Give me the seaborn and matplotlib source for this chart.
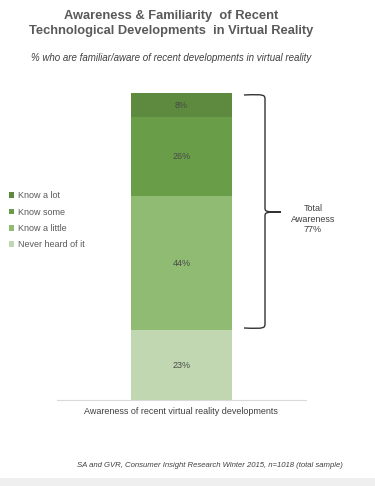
import matplotlib
matplotlib.use("Agg")
import matplotlib.pyplot as plt
import seaborn as sns
import pandas as pd
import numpy as np
from matplotlib.patches import Patch, Rectangle, PathPatch
from matplotlib.path import Path

# ---- data ----
categories = ["Never heard of it", "Know a little", "Know some", "Know a lot"]
values = [23, 44, 26, 8]
colors = ["#c0d7b2", "#8fbb73", "#6a9d47", "#5d8a3e"]
bar_label = "Awareness of recent virtual reality developments"
total_awareness = 77

sns.set_theme(style="white")
plt.rcParams["font.family"] = ["Liberation Sans", "DejaVu Sans"]

W, H = 375, 486
fig = plt.figure(figsize=(W / 100, H / 100), dpi=100)
fig.patch.set_facecolor("white")

ax_left, ax_right = 57, 306
ax_bottom, ax_top = 400, 93
ax = fig.add_axes([ax_left / W, 1 - ax_bottom / H, (ax_right - ax_left) / W, (ax_bottom - ax_top) / H])

cum = np.cumsum(values)
df = pd.DataFrame({"group": [bar_label] * len(values), "cum": cum, "cat": categories})
bar_w = 101 / (ax_right - ax_left)
# draw cumulative bars from tallest to shortest so they stack
for i in range(len(values) - 1, -1, -1):
    sns.barplot(data=df.iloc[[i]], x="group", y="cum", color=colors[i], width=bar_w,
                ax=ax, saturation=1, linewidth=0, edgecolor="none")
for p in ax.patches:
    p.set_antialiased(False)

# segment labels
bottoms = cum - np.array(values)
for v, b in zip(values, bottoms):
    ax.text(0, b + v / 2, f"{v}%", ha="center", va="center", fontsize=6.5, color="#4a4a4a")

ax.set_xlim(-0.5, 0.5)
ax.set_ylim(0, cum[-1])
ax.set_xticks([])
ax.set_yticks([])
ax.set_xlabel("")
ax.set_ylabel("")
for s in ["top", "left", "right"]:
    ax.spines[s].set_visible(False)
ax.spines["bottom"].set_color("#d9d9d9")
ax.spines["bottom"].set_linewidth(0.8)

# axis category label
fig.text(181 / W, 1 - 411 / H, bar_label, ha="center", va="center", fontsize=6.5, color="#404040")

# curly bracket (in axes data coords)
def px2x(px):
    return (px - 181.5) / (ax_right - ax_left)

def py2y(py):
    return (ax_bottom - py) / (ax_bottom - ax_top) * cum[-1]

xl, xv, xt = px2x(244), px2x(265), px2x(281)
yt, yb, ym = py2y(95), py2y(328), py2y(212)
r = (yt - yb) * 0.02
verts = [
    (xl, yt), (xv, yt + r * 0.2), (xv, yt), (xv, yt - r),
    (xv, ym + r),
    (xv, ym + r * 0.1), (xv, ym), (xt, ym),
    (xv, ym), (xv, ym - r * 0.1), (xv, ym - r),
    (xv, yb + r),
    (xv, yb), (xv, yb - r * 0.2), (xl, yb),
]
codes = [Path.MOVETO, Path.CURVE4, Path.CURVE4, Path.CURVE4,
         Path.LINETO,
         Path.CURVE4, Path.CURVE4, Path.CURVE4,
         Path.CURVE4, Path.CURVE4, Path.CURVE4,
         Path.LINETO,
         Path.CURVE4, Path.CURVE4, Path.CURVE4]
brace = PathPatch(Path(verts, codes), facecolor="none", edgecolor="#333333", lw=1.0, clip_on=False)
ax.add_patch(brace)
ax.text(px2x(313), py2y(219), f"Total\nAwareness\n{total_awareness}%", ha="center", va="center",
        fontsize=6.5, color="#404040", linespacing=1.15, clip_on=False)

# legend (top category first)
handles = [Patch(facecolor=colors[i], edgecolor="none", label=categories[i]) for i in range(len(categories) - 1, -1, -1)]
leg = fig.legend(handles=handles, loc="upper left", bbox_to_anchor=(9 / W, 1 - 191.5 / H), frameon=False,
                 fontsize=6.5, handlelength=0.6, handleheight=0.6, handletextpad=0.35, labelspacing=0.8,
                 borderaxespad=0, borderpad=0)
for t in leg.get_texts():
    t.set_color("#595959")

# titles
fig.text(171 / W, 1 - 23.5 / H, "Awareness & Familiarity  of Recent\nTechnological Developments  in Virtual Reality",
         ha="center", va="center", fontsize=9.3, fontweight="bold", color="#595959", linespacing=1.35)
fig.text(171 / W, 1 - 58 / H, "% who are familiar/aware of recent developments in virtual reality",
         ha="center", va="center", fontsize=7, style="italic", color="#404040")

# source
fig.text(210 / W, 1 - 465 / H, "SA and GVR, Consumer Insight Research Winter 2015, n=1018 (total sample)",
         ha="center", va="center", fontsize=5.6, style="italic", color="#404040")

# bottom gray band
fig.patches.append(Rectangle((0, 0), 1, 8 / H, transform=fig.transFigure, facecolor="#efefef",
                             edgecolor="none", zorder=-1))

fig.savefig("out.png", dpi=100)
